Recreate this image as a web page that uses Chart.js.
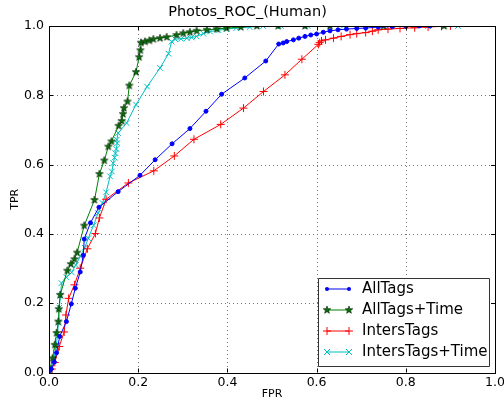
<!DOCTYPE html>
<html>
<head>
<meta charset="utf-8">
<script src="https://cdn.jsdelivr.net/npm/chart.js@4/dist/chart.umd.min.js"></script>
<style>
  html, body { margin: 0; padding: 0; background: #fff; }
  #wrap { width: 504px; height: 400px; }
</style>
</head>
<body>
<div id="wrap"><canvas id="rocChart" width="504" height="400"></canvas></div>
<script>
// Courbes ROC (FPR / TPR)
const allTagsFpr = [0, 0.005, 0.012, 0.017, 0.024, 0.039, 0.05, 0.059, 0.07, 0.077, 0.079, 0.093, 0.112, 0.155, 0.204, 0.238, 0.276, 0.316, 0.352, 0.387, 0.439, 0.486, 0.515, 0.525, 0.533, 0.548, 0.56, 0.574, 0.587, 0.6, 0.615, 0.63, 0.648, 0.667, 0.69, 0.71, 0.738, 0.77, 0.8, 0.83, 0.854];
const allTagsTpr = [0, 0.01, 0.03, 0.057, 0.104, 0.147, 0.198, 0.243, 0.29, 0.338, 0.385, 0.432, 0.477, 0.522, 0.569, 0.614, 0.66, 0.704, 0.754, 0.803, 0.85, 0.899, 0.948, 0.951, 0.955, 0.96, 0.965, 0.97, 0.974, 0.977, 0.982, 0.986, 0.989, 0.991, 0.993, 0.994, 0.997, 0.998, 0.999, 1.0, 1.0];

const allTagsTimeFpr = [0, 0.008, 0.013, 0.017, 0.021, 0.022, 0.025, 0.041, 0.049, 0.057, 0.063, 0.079, 0.102, 0.113, 0.124, 0.133, 0.14, 0.156, 0.163, 0.166, 0.168, 0.176, 0.18, 0.195, 0.202, 0.205, 0.206, 0.215, 0.225, 0.234, 0.249, 0.264, 0.286, 0.301, 0.316, 0.331, 0.354, 0.376, 0.398, 0.43, 0.466, 0.514, 0.574, 0.63, 0.75, 0.886];
const allTagsTimeTpr = [0, 0.041, 0.08, 0.114, 0.147, 0.183, 0.224, 0.294, 0.313, 0.327, 0.346, 0.424, 0.498, 0.573, 0.612, 0.652, 0.667, 0.712, 0.726, 0.746, 0.763, 0.782, 0.828, 0.867, 0.91, 0.93, 0.952, 0.955, 0.958, 0.962, 0.965, 0.968, 0.974, 0.979, 0.982, 0.986, 0.989, 0.991, 0.994, 0.997, 1.0, 1.0, 1.0, 1.0, 1.0, 1.0];

const intersTagsFpr = [0, 0.006, 0.013, 0.023, 0.034, 0.038, 0.044, 0.057, 0.07, 0.086, 0.104, 0.113, 0.128, 0.178, 0.235, 0.281, 0.325, 0.385, 0.436, 0.481, 0.529, 0.567, 0.604, 0.607, 0.611, 0.62, 0.638, 0.655, 0.675, 0.69, 0.71, 0.725, 0.738, 0.76, 0.787, 0.82, 0.85, 0.88, 0.9];
const intersTagsTpr = [0, 0.01, 0.029, 0.075, 0.117, 0.166, 0.214, 0.253, 0.301, 0.357, 0.401, 0.446, 0.5, 0.547, 0.582, 0.625, 0.673, 0.716, 0.763, 0.811, 0.859, 0.904, 0.947, 0.952, 0.957, 0.96, 0.965, 0.97, 0.975, 0.978, 0.981, 0.985, 0.989, 0.991, 0.993, 0.995, 0.997, 0.999, 1.0];

const intersTagsTimeFpr = [0, 0.005, 0.011, 0.015, 0.019, 0.021, 0.023, 0.026, 0.028, 0.039, 0.051, 0.06, 0.07, 0.08, 0.088, 0.1, 0.11, 0.12, 0.128, 0.137, 0.141, 0.144, 0.147, 0.149, 0.151, 0.153, 0.152, 0.155, 0.174, 0.195, 0.22, 0.249, 0.268, 0.275, 0.283, 0.296, 0.309, 0.32, 0.331, 0.346, 0.361, 0.38, 0.398, 0.42, 0.45, 0.48, 0.52, 0.58, 0.66, 0.75, 0.85, 0.917];
const intersTagsTimeTpr = [0, 0.015, 0.037, 0.07, 0.104, 0.144, 0.187, 0.222, 0.258, 0.275, 0.289, 0.31, 0.335, 0.36, 0.387, 0.425, 0.46, 0.489, 0.52, 0.566, 0.58, 0.604, 0.62, 0.633, 0.645, 0.662, 0.672, 0.691, 0.72, 0.773, 0.825, 0.879, 0.92, 0.955, 0.962, 0.963, 0.965, 0.967, 0.97, 0.978, 0.984, 0.988, 0.991, 0.994, 0.997, 1.0, 1.0, 1.0, 1.0, 1.0, 1.0, 1.0];

const seriesNames = ["AllTags", "AllTags+Time", "IntersTags", "IntersTags+Time"];
const axisTicks = [0.0, 0.2, 0.4, 0.6, 0.8, 1.0];

// étoile pleine façon matplotlib
function makeStar(r, fill, edge) {
    const c = document.createElement("canvas");
    const s = Math.ceil(r * 2 + 2);
    c.width = s; c.height = s;
    const g = c.getContext("2d");
    g.beginPath();
    for (let i = 0; i < 10; i++) {
        const rad = i % 2 === 0 ? r : r * 0.42;
        const a = -Math.PI / 2 + i * Math.PI / 5;
        const px = s / 2 + rad * Math.cos(a), py = s / 2 + rad * Math.sin(a);
        if (i === 0) g.moveTo(px, py); else g.lineTo(px, py);
    }
    g.closePath();
    g.fillStyle = fill; g.fill();
    g.lineWidth = 0.6; g.strokeStyle = edge; g.stroke();
    return c;
}
const starImg = makeStar(4, "#0b6b0b", "#002200");

function pts(xs, ys) {
    return xs.map((x, i) => ({ x: x, y: ys[i] }));
}

const styles = [
    { color: "#0000ff", pointStyle: "circle", radius: 2 },
    { color: "#008000", pointStyle: starImg, radius: 4 },
    { color: "#ff0000", pointStyle: "cross", radius: 4 },
    { color: "#00bfbf", pointStyle: "crossRot", radius: 4 }
];
const seriesData = [
    pts(allTagsFpr, allTagsTpr),
    pts(allTagsTimeFpr, allTagsTimeTpr),
    pts(intersTagsFpr, intersTagsTpr),
    pts(intersTagsTimeFpr, intersTagsTimeTpr)
];

const datasets = seriesNames.map((name, i) => ({
    label: name,
    data: seriesData[i],
    showLine: true,
    borderColor: styles[i].color,
    backgroundColor: styles[i].color,
    borderWidth: 1,
    pointStyle: styles[i].pointStyle,
    pointRadius: styles[i].radius,
    pointBorderWidth: 1,
    pointHoverRadius: styles[i].radius,
    tension: 0
}));

// marqueur pour la légende
function drawMarker(ctx, st, x, y) {
    ctx.save();
    ctx.strokeStyle = st.color; ctx.fillStyle = st.color; ctx.lineWidth = 1;
    if (st.pointStyle === "circle") {
        ctx.beginPath(); ctx.arc(x, y, st.radius, 0, Math.PI * 2); ctx.fill();
    } else if (st.pointStyle === "cross") {
        ctx.beginPath();
        ctx.moveTo(x - st.radius, y); ctx.lineTo(x + st.radius, y);
        ctx.moveTo(x, y - st.radius); ctx.lineTo(x, y + st.radius);
        ctx.stroke();
    } else if (st.pointStyle === "crossRot") {
        const d = st.radius * 0.75;
        ctx.beginPath();
        ctx.moveTo(x - d, y - d); ctx.lineTo(x + d, y + d);
        ctx.moveTo(x + d, y - d); ctx.lineTo(x - d, y + d);
        ctx.stroke();
    } else {
        ctx.drawImage(st.pointStyle, x - st.pointStyle.width / 2, y - st.pointStyle.height / 2);
    }
    ctx.restore();
}

// grille pointillée façon matplotlib
const gridPlugin = {
    id: "dotgrid",
    beforeDatasetsDraw(chart) {
        const ctx = chart.ctx;
        const a = chart.chartArea;
        const xs = chart.scales.x, ys = chart.scales.y;
        ctx.save();
        ctx.strokeStyle = "#777"; ctx.lineWidth = 1;
        ctx.setLineDash([1, 3]);
        ctx.beginPath();
        axisTicks.forEach(t => {
            const px = Math.round(xs.getPixelForValue(t)) + 0.5;
            const py = Math.round(ys.getPixelForValue(t)) + 0.5;
            ctx.moveTo(px, a.top); ctx.lineTo(px, a.bottom);
            ctx.moveTo(a.left, py); ctx.lineTo(a.right, py);
        });
        ctx.stroke();
        ctx.restore();
    }
};

// cadre, petites graduations et légende dans le graphique
const framePlugin = {
    id: "frame",
    afterDatasetsDraw(chart) {
        const ctx = chart.ctx;
        const a = chart.chartArea;
        const xs = chart.scales.x, ys = chart.scales.y;
        ctx.save();
        ctx.strokeStyle = "#000"; ctx.lineWidth = 1;
        ctx.beginPath();
        axisTicks.forEach(t => {
            const px = Math.round(xs.getPixelForValue(t)) + 0.5;
            const py = Math.round(ys.getPixelForValue(t)) + 0.5;
            ctx.moveTo(px, a.bottom); ctx.lineTo(px, a.bottom - 4);
            ctx.moveTo(px, a.top); ctx.lineTo(px, a.top + 4);
            ctx.moveTo(a.left, py); ctx.lineTo(a.left + 4, py);
            ctx.moveTo(a.right, py); ctx.lineTo(a.right - 4, py);
        });
        ctx.stroke();
        ctx.strokeRect(Math.round(a.left) + 0.5, Math.round(a.top) + 0.5,
            Math.round(a.right - a.left), Math.round(a.bottom - a.top));

        // légende
        const bx = 318, by = 278, bw = 171, bh = 88;
        ctx.fillStyle = "#fff";
        ctx.strokeStyle = "#333";
        ctx.beginPath();
        ctx.rect(bx + 0.5, by + 0.5, bw, bh);
        ctx.fill(); ctx.stroke();
        ctx.font = "15px 'DejaVu Sans'";
        ctx.textBaseline = "middle";
        seriesNames.forEach((name, i) => {
            const y = by + 11 + i * 21;
            const st = styles[i];
            ctx.strokeStyle = st.color; ctx.lineWidth = 1;
            ctx.beginPath(); ctx.moveTo(327, y); ctx.lineTo(349, y); ctx.stroke();
            drawMarker(ctx, st, 327, y);
            drawMarker(ctx, st, 349, y);
            ctx.fillStyle = "#000";
            ctx.fillText(name, 362, y);
        });
        ctx.restore();
    }
};

const config = {
    type: "scatter",
    data: { datasets: datasets },
    options: {
        responsive: false,
        animation: false,
        layout: { padding: { left: 0, right: 9, top: 0, bottom: 0 } },
        plugins: {
            legend: { display: false },
            tooltip: { enabled: false },
            title: {
                display: true,
                text: "Photos_ROC_(Human)",
                color: "#000",
                font: { family: "DejaVu Sans", size: 14.5, weight: "normal", lineHeight: 1.2 },
                padding: { top: 4, bottom: 4.6 }
            }
        },
        scales: {
            x: {
                type: "linear",
                min: 0, max: 1,
                afterBuildTicks: s => { s.ticks = axisTicks.map(v => ({ value: v })); },
                afterFit: s => { s.height = 27.5; s.paddingLeft = 0; s.paddingRight = 0; },
                grid: { display: false, drawTicks: false },
                border: { display: false },
                ticks: {
                    color: "#000",
                    padding: 3,
                    maxRotation: 0,
                    font: { family: "DejaVu Sans", size: 12.5 },
                    callback: v => v.toFixed(1)
                },
                title: {
                    display: true, text: "FPR", color: "#000",
                    font: { family: "DejaVu Sans", size: 11, lineHeight: 1.0 },
                    padding: { top: 0, bottom: 0 }
                }
            },
            y: {
                type: "linear",
                min: 0, max: 1,
                afterBuildTicks: s => { s.ticks = axisTicks.map(v => ({ value: v })); },
                afterFit: s => { s.width = 49; s.paddingTop = 0; s.paddingBottom = 0; },
                grid: { display: false, drawTicks: false },
                border: { display: false },
                ticks: {
                    color: "#000",
                    padding: 5,
                    font: { family: "DejaVu Sans", size: 12.5 },
                    callback: v => v.toFixed(1)
                },
                title: {
                    display: true, text: "TPR", color: "#000",
                    font: { family: "DejaVu Sans", size: 11, lineHeight: 1.0 },
                    padding: { top: 10, bottom: 0 }
                }
            }
        }
    },
    plugins: [gridPlugin, framePlugin]
};

new Chart(document.getElementById("rocChart"), config);
</script>
</body>
</html>
